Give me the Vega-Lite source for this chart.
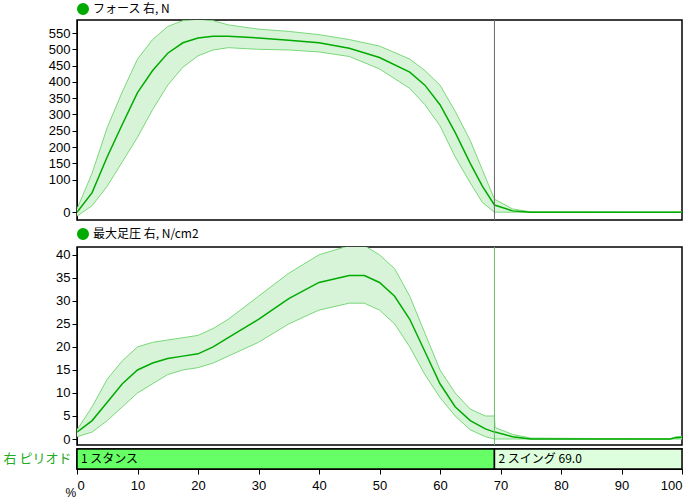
{
  "$schema": "https://vega.github.io/schema/vega-lite/v6.json",
  "background": "white",
  "padding": {"left": 2, "top": 2, "right": 14, "bottom": 2},
  "datasets": {
    "force": [
      {"x": 0, "m": 0, "lo": -12, "hi": 10},
      {"x": 2.5, "m": 60, "lo": 20, "hi": 120},
      {"x": 5, "m": 170, "lo": 80, "hi": 260},
      {"x": 7.5, "m": 270, "lo": 155, "hi": 370},
      {"x": 10, "m": 367, "lo": 230, "hi": 470},
      {"x": 12.5, "m": 435, "lo": 315, "hi": 530},
      {"x": 15, "m": 488, "lo": 390, "hi": 570},
      {"x": 17.5, "m": 520, "lo": 445, "hi": 588},
      {"x": 20, "m": 535, "lo": 480, "hi": 592},
      {"x": 22.5, "m": 540, "lo": 498, "hi": 588},
      {"x": 25, "m": 540, "lo": 505, "hi": 575},
      {"x": 30, "m": 535, "lo": 500, "hi": 562},
      {"x": 35, "m": 528, "lo": 498, "hi": 555},
      {"x": 40, "m": 520, "lo": 492, "hi": 545},
      {"x": 45, "m": 503, "lo": 478, "hi": 530},
      {"x": 50, "m": 475, "lo": 440, "hi": 510},
      {"x": 55, "m": 430, "lo": 380, "hi": 470},
      {"x": 57.5, "m": 390, "lo": 330, "hi": 435},
      {"x": 60, "m": 330, "lo": 265, "hi": 390},
      {"x": 62.5, "m": 245, "lo": 170, "hi": 310},
      {"x": 65, "m": 150, "lo": 90, "hi": 220},
      {"x": 67, "m": 80, "lo": 30, "hi": 130},
      {"x": 69, "m": 22, "lo": 0, "hi": 40},
      {"x": 72, "m": 4, "lo": 0, "hi": 10},
      {"x": 75, "m": 0, "lo": 0, "hi": 1},
      {"x": 100, "m": 0, "lo": 0, "hi": 0}
    ],
    "pressure": [
      {"x": 0, "m": 1.5, "lo": 0.5, "hi": 2},
      {"x": 2.5, "m": 4, "lo": 1.5, "hi": 7},
      {"x": 5, "m": 8, "lo": 4, "hi": 13},
      {"x": 7.5, "m": 12, "lo": 7, "hi": 17},
      {"x": 10, "m": 15, "lo": 10, "hi": 20},
      {"x": 12.5, "m": 16.5, "lo": 12, "hi": 21},
      {"x": 15, "m": 17.5, "lo": 14, "hi": 21.5},
      {"x": 17.5, "m": 18, "lo": 15, "hi": 22},
      {"x": 20, "m": 18.5, "lo": 15.5, "hi": 22.5},
      {"x": 22.5, "m": 20, "lo": 16.5, "hi": 24},
      {"x": 25, "m": 22, "lo": 18, "hi": 26},
      {"x": 30, "m": 26, "lo": 21, "hi": 31},
      {"x": 35, "m": 30.5, "lo": 25, "hi": 36},
      {"x": 40, "m": 34, "lo": 28, "hi": 40},
      {"x": 45, "m": 35.5, "lo": 29.5, "hi": 42},
      {"x": 47.5, "m": 35.5, "lo": 29.5, "hi": 42},
      {"x": 50, "m": 34, "lo": 28, "hi": 40},
      {"x": 52.5, "m": 31, "lo": 25, "hi": 37},
      {"x": 55, "m": 26, "lo": 20, "hi": 31},
      {"x": 57.5, "m": 19, "lo": 14, "hi": 23},
      {"x": 60, "m": 12, "lo": 9, "hi": 15},
      {"x": 62.5, "m": 7, "lo": 5, "hi": 10},
      {"x": 65, "m": 4, "lo": 2, "hi": 6.5},
      {"x": 67.5, "m": 2.2, "lo": 0.5, "hi": 5},
      {"x": 69, "m": 1.5, "lo": 0, "hi": 5},
      {"x": 69.1, "m": 1.5, "lo": 0, "hi": 2.5},
      {"x": 72, "m": 0.5, "lo": 0, "hi": 1},
      {"x": 75, "m": 0, "lo": 0, "hi": 0.2},
      {"x": 98, "m": 0, "lo": 0, "hi": 0},
      {"x": 99, "m": 0.3, "lo": 0, "hi": 0.5},
      {"x": 100, "m": 0.4, "lo": 0, "hi": 0.6}
    ],
    "phases": [
      {"row": "右 ピリオド", "start": 0, "end": 69, "label": "1 スタンス", "kind": "stance"},
      {"row": "右 ピリオド", "start": 69, "end": 100, "label": "2 スイング 69.0", "kind": "swing"}
    ],
    "marker": [{"x": 69}]
  },
  "vconcat": [
    {
      "width": 605,
      "height": 200,
      "encoding": {
        "x": {"field": "x", "type": "quantitative", "scale": {"domain": [0, 100], "nice": false}, "axis": null}
      },
      "layer": [
        {
          "data": {"name": "force"},
          "mark": {"type": "area", "color": "#d8f4d8", "clip": true},
          "encoding": {
            "y": {"field": "lo", "type": "quantitative", "scale": {"domain": [-24, 590], "nice": false, "zero": false},
              "axis": {"values": [0, 100, 150, 200, 250, 300, 350, 400, 450, 500, 550], "title": null, "grid": false, "tickCount": 20}},
            "y2": {"field": "hi"}
          }
        },
        {"data": {"name": "force"}, "mark": {"type": "line", "color": "#7ad87a", "strokeWidth": 1, "clip": true},
          "encoding": {"y": {"field": "lo", "type": "quantitative", "axis": {"values": [0, 100, 150, 200, 250, 300, 350, 400, 450, 500, 550], "title": null, "grid": false, "tickCount": 20}}}},
        {"data": {"name": "force"}, "mark": {"type": "line", "color": "#7ad87a", "strokeWidth": 1, "clip": true},
          "encoding": {"y": {"field": "hi", "type": "quantitative", "axis": {"values": [0, 100, 150, 200, 250, 300, 350, 400, 450, 500, 550], "title": null, "grid": false, "tickCount": 20}}}},
        {"data": {"name": "force"}, "mark": {"type": "line", "strokeWidth": 1.5, "clip": true},
          "encoding": {
            "y": {"field": "m", "type": "quantitative", "axis": {"values": [0, 100, 150, 200, 250, 300, 350, 400, 450, 500, 550], "title": null, "grid": false, "tickCount": 20}},
            "color": {"datum": "フォース 右, N", "scale": {"range": ["#00aa00"]},
              "legend": {"title": null, "orient": "top", "symbolType": "circle", "symbolFillColor": "#00aa00", "symbolSize": 110, "offset": 2}}
          }},
        {"data": {"name": "marker"}, "mark": {"type": "rule", "color": "#666666", "strokeWidth": 1},
          "encoding": {}}
      ]
    },
    {
      "spacing": 0,
      "vconcat": [
        {
          "width": 605,
          "height": 198,
          "encoding": {
            "x": {"field": "x", "type": "quantitative", "scale": {"domain": [0, 100], "nice": false}, "axis": null}
          },
          "layer": [
            {
              "data": {"name": "pressure"},
              "mark": {"type": "area", "color": "#d8f4d8", "clip": true},
              "encoding": {
                "y": {"field": "lo", "type": "quantitative", "scale": {"domain": [-1.3, 41.7], "nice": false, "zero": false},
                  "axis": {"values": [0, 5, 10, 15, 20, 25, 30, 35, 40], "title": null, "grid": false, "tickCount": 20}},
                "y2": {"field": "hi"}
              }
            },
            {"data": {"name": "pressure"}, "mark": {"type": "line", "color": "#7ad87a", "strokeWidth": 1, "clip": true},
              "encoding": {"y": {"field": "lo", "type": "quantitative", "axis": {"values": [0, 5, 10, 15, 20, 25, 30, 35, 40], "title": null, "grid": false, "tickCount": 20}}}},
            {"data": {"name": "pressure"}, "mark": {"type": "line", "color": "#7ad87a", "strokeWidth": 1, "clip": true},
              "encoding": {"y": {"field": "hi", "type": "quantitative", "axis": {"values": [0, 5, 10, 15, 20, 25, 30, 35, 40], "title": null, "grid": false, "tickCount": 20}}}},
            {"data": {"name": "pressure"}, "mark": {"type": "line", "strokeWidth": 1.5, "clip": true},
              "encoding": {
                "y": {"field": "m", "type": "quantitative", "axis": {"values": [0, 5, 10, 15, 20, 25, 30, 35, 40], "title": null, "grid": false, "tickCount": 20}},
                "color": {"datum": "最大足圧 右, N/cm2", "scale": {"range": ["#00aa00"]},
                  "legend": {"title": null, "orient": "top", "symbolType": "circle", "symbolFillColor": "#00aa00", "symbolSize": 110, "offset": 2}}
              }},
            {"data": {"name": "marker"}, "mark": {"type": "rule", "color": "#66bb66", "strokeWidth": 1},
              "encoding": {}}
          ]
        },
        {
          "width": 605,
          "height": 20,
          "data": {"name": "phases"},
          "layer": [
            {
              "mark": {"type": "rect", "stroke": "black", "strokeWidth": 1.5},
              "encoding": {
                "x": {"field": "start", "type": "quantitative", "scale": {"domain": [0, 100], "nice": false},
                  "axis": {"values": [0, 5, 10, 15, 20, 25, 30, 35, 40, 45, 50, 55, 60, 65, 70, 75, 80, 85, 90, 95, 100],
                    "labelExpr": "datum.value % 10 == 0 ? datum.label : ''", "labelOverlap": false, "title": "%", "titleAngle": 0,
                    "titleAnchor": "start", "titleX": -12, "titleY": 18, "titleFontWeight": "normal", "titleFontSize": 12,
                    "labelFontSize": 13, "tickSize": 5, "labelPadding": 5}},
                "x2": {"field": "end"},
                "y": {"field": "row", "type": "nominal",
                  "axis": {"title": null, "ticks": false, "domain": false, "labelColor": "#22aa22", "labelFont": "Noto Sans CJK JP", "labelFontSize": 13, "labelPadding": 6}},
                "fill": {"field": "kind", "type": "nominal", "scale": {"domain": ["stance", "swing"], "range": ["#66ff66", "#ddffdd"]}, "legend": null}
              }
            },
            {
              "mark": {"type": "text", "align": "left", "dx": 4, "fontSize": 12, "font": "Noto Sans CJK JP", "color": "black"},
              "encoding": {
                "x": {"field": "start", "type": "quantitative"},
                "y": {"field": "row", "type": "nominal"},
                "text": {"field": "label"}
              }
            }
          ]
        }
      ]
    }
  ],
  "spacing": 6,
  "resolve": {"legend": {"color": "independent"}, "scale": {"color": "independent"}},
  "config": {
    "view": {"stroke": "black", "strokeWidth": 1.5},
    "axis": {"labelFont": "Liberation Sans", "labelFontSize": 13, "labelColor": "black", "tickColor": "black", "domainColor": "black", "titleFont": "Liberation Sans", "titleColor": "black", "labelOverlap": false},
    "legend": {"labelFont": "Noto Sans CJK JP", "labelFontSize": 12, "labelColor": "black", "padding": 0}
  }
}
